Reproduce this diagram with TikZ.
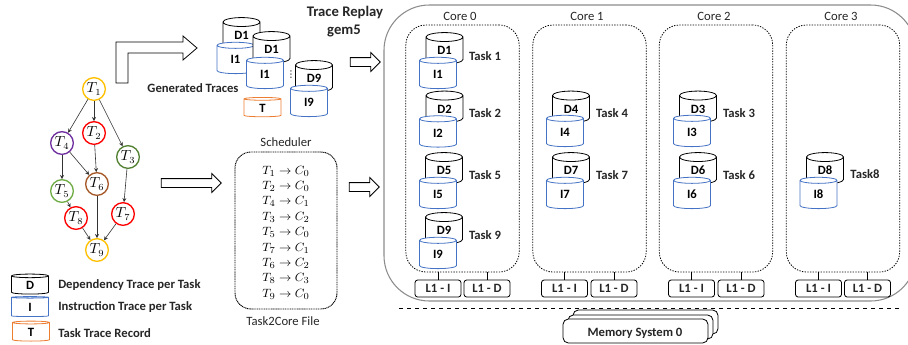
\documentclass[tikz,border=0pt]{standalone}
\usepackage{fontspec}
\setmainfont{Carlito}
\newfontfamily\symfont{DejaVu Sans}
\usetikzlibrary{shapes.geometric,shapes.arrows,arrows.meta}
\definecolor{tgold}{HTML}{FFC000}
\definecolor{tpurple}{HTML}{7030A0}
\definecolor{tgreen}{HTML}{548235}
\definecolor{tlime}{HTML}{70AD47}
\definecolor{tbrown}{HTML}{A5592A}
\definecolor{iblue}{HTML}{4472C4}
\definecolor{torange}{HTML}{ED7D31}
\begin{document}
\begin{tikzpicture}[x=0.75pt, y=-0.75pt,
    task/.style ={circle, draw, line width=1pt, inner sep=0pt, minimum size=17pt, font=\fontsize{10.5}{10}\selectfont},
    dep/.style ={->, >={Stealth[length=3pt,width=3pt]}, line width=0.45pt, black!80},
    trace/.style ={cylinder, shape border rotate=90, aspect=0.62, draw, fill=white, line width=0.6pt, inner sep=0pt,
        minimum width=27.75pt, minimum height=23.5pt, font=\fontsize{9.5}{10}\selectfont\bfseries},
    dtrace/.style ={trace, draw=black, yshift=-2pt},
    itrace/.style ={trace, draw=iblue, yshift=-2pt},
    ttrace/.style ={trace, draw=torange, minimum height=14.5pt, aspect=0.45},
    lbl/.style ={font=\fontsize{9.5}{10}\selectfont\bfseries, text=black!85, inner sep=0pt},
    plain/.style ={font=\fontsize{9.5}{10}\selectfont, text=black!85, inner sep=0pt},
    map/.style ={font=\fontsize{9.5}{10}\selectfont, inner sep=0pt},
    core/.style ={draw, dash pattern=on 1pt off 1pt, line width=0.6pt, rounded corners=15pt, minimum width=85pt, minimum height=185.25pt},
    cache/.style ={draw, rounded corners=2pt, line width=0.6pt, minimum width=34.5pt, minimum height=12.75pt, inner sep=0pt,
        font=\fontsize{9.5}{10}\selectfont\bfseries, text=black!85},
    mem/.style ={draw, fill=white, rounded corners=4pt, line width=0.6pt, minimum width=108.75pt, minimum height=18pt},
    block/.style ={single arrow, draw, fill=white, line width=0.6pt, inner sep=3pt, single arrow head extend=3.75pt,
        single arrow tip angle=90, minimum height=22.5pt, minimum width=13.5pt}]
   \useasboundingbox (0,0) rectangle (908,344);

   % task graph
   \node[task, draw=tgold] (T1) at (94,89) {$T_1$};
   \node[task, draw=red] (T2) at (94,133) {$T_2$};
   \node[task, draw=tpurple] (T4) at (62,143) {$T_4$};
   \node[task, draw=tgreen] (T3) at (128,157) {$T_3$};
   \node[task, draw=tbrown] (T6) at (97,184) {$T_6$};
   \node[task, draw=tlime] (T5) at (62,191) {$T_5$};
   \node[task, draw=red] (T8) at (76,218) {$T_8$};
   \node[task, draw=red] (T7) at (123,214) {$T_7$};
   \node[task, draw=tgold] (T9) at (97,250) {$T_9$};

   \draw[dep] (T1) to (T4);
   \draw[dep] (T1) to (T2);
   \draw[dep] (T1) to (T3);
   \draw[dep] (T4) to (T5);
   \draw[dep] (T4) to (T6);
   \draw[dep] (T2) to (T6);
   \draw[dep] (T3) to (T7);
   \draw[dep] (T5) to (T8);
   \draw[dep] (T8) to (T9);
   \draw[dep] (T6) to (T9);
   \draw[dep] (T7) to (T9);

   % legend
   \node[dtrace, minimum height=15pt, aspect=0.45] (legD) at (30,282.5) {D};
   \node[itrace, minimum height=15pt, aspect=0.45] (legI) at (30,304.5) {I};
   \node[ttrace, minimum height=15pt] (legT) at (31,332) {T};
   \node[lbl, anchor=west] (legDtext) at (58,285) {Dependency Trace per Task};
   \node[lbl, anchor=west] (legItext) at (58,307) {Instruction Trace per Task};
   \node[lbl, anchor=west] (legTtext) at (58,333) {Task Trace Record};

   % generated traces
   \draw[line width=0.6pt] (116,83) -- (116,42) -- (183,42) -- (183,36) -- (197,48) -- (183,60) -- (183,53) -- (128,53) -- (128,83) -- cycle;
   \node[dtrace] (gD1) at (241.5,33) {D1};
   \node[itrace] (gI1) at (235.5,57) {I1};
   \node[dtrace] (gD1b) at (271.5,47) {D1};
   \node[itrace] (gI1b) at (265,72) {I1};
   \node[dtrace] (gD9) at (314,76) {D9};
   \node[itrace] (gI9) at (309,100) {I9};
   \node[ttrace] (gT) at (262.5,108) {T};
   \node[font=\fontsize{7}{8}\selectfont\symfont, inner sep=0pt] (gdots) at (291,75) {⋮};
   \node[lbl] (gen) at (193,88) {Generated Traces};
   \node[lbl, font=\fontsize{11}{12}\selectfont\bfseries] (replay) at (345,13) {Trace Replay};
   \node[lbl, font=\fontsize{11}{12}\selectfont\bfseries] (gem) at (344,31) {gem5};

   \node[block, minimum height=45pt] (arrowA) at (189,183) {};
   \node[block] (arrowB) at (362,187) {};
   \node[block] (arrowC) at (363,62) {};

   % scheduler file
   \node[draw, dash pattern=on 0.8pt off 0.5pt, line width=0.7pt, rounded corners=12pt, minimum width=76.5pt, minimum height=117.75pt] (sched) at (286,230.5) {};
   \node[plain] (schedtext) at (286,142) {Scheduler};
   \node[plain] (filetext) at (283,321) {Task2Core File};
   \node[map] (m1) at (286,171) {$T_1\to C_0$};
   \node[map] (m2) at (286,186.4) {$T_2\to C_0$};
   \node[map] (m3) at (286,201.8) {$T_4\to C_1$};
   \node[map] (m4) at (286,217.2) {$T_3\to C_2$};
   \node[map] (m5) at (286,232.6) {$T_5\to C_0$};
   \node[map] (m6) at (286,248) {$T_7\to C_1$};
   \node[map] (m7) at (286,263.4) {$T_6\to C_2$};
   \node[map] (m8) at (286,278.8) {$T_8\to C_3$};
   \node[map] (m9) at (286,294.2) {$T_9\to C_0$};

   % cores
   \node[draw=black!45, line width=0.8pt, rounded corners=34pt, minimum width=399pt, minimum height=222pt] (chip) at (650,153) {};
   \node[core] (core0) at (462.5,148.5) {};
   \node[core] (core1) at (589.5,148.5) {};
   \node[core] (core2) at (716,148.5) {};
   \node[core] (core3) at (843,148.5) {};
   \node[plain] (c0text) at (460,16) {Core 0};
   \node[plain] (c1text) at (587,16) {Core 1};
   \node[plain] (c2text) at (714,16) {Core 2};
   \node[plain] (c3text) at (841,16) {Core 3};

   \node[dtrace] (D1) at (444.5,48) {D1};
   \node[itrace] (I1) at (438,72) {I1};
   \node[lbl] (task1) at (485,56) {Task 1};
   \node[dtrace] (D2) at (444.5,106.5) {D2};
   \node[itrace] (I2) at (438,130.5) {I2};
   \node[lbl] (task2) at (485,113) {Task 2};
   \node[dtrace] (D5) at (444,168) {D5};
   \node[itrace] (I5) at (438,192) {I5};
   \node[lbl] (task5) at (485,175) {Task 5};
   \node[dtrace] (D9) at (444,228) {D9};
   \node[itrace] (I9) at (438,252) {I9};
   \node[lbl] (task9) at (485,235) {Task 9};

   \node[dtrace] (D4) at (571,106.5) {D4};
   \node[itrace] (I4) at (565,130) {I4};
   \node[lbl] (task4) at (612,113) {Task 4};
   \node[dtrace] (D7) at (571,168) {D7};
   \node[itrace] (I7) at (565,192) {I7};
   \node[lbl] (task7) at (612,175) {Task 7};

   \node[dtrace] (D3) at (698,106.5) {D3};
   \node[itrace] (I3) at (692,130) {I3};
   \node[lbl] (task3) at (739,113) {Task 3};
   \node[dtrace] (D6) at (698,168) {D6};
   \node[itrace] (I6) at (692,192) {I6};
   \node[lbl] (task6) at (739,175) {Task 6};

   \node[dtrace] (D8) at (825,168) {D8};
   \node[itrace] (I8) at (818.5,192) {I8};
   \node[lbl] (task8) at (865,174) {Task8};

   % caches
   \node[cache] (l1i0) at (438,288.5) {L1 - I};
   \node[cache] (l1d0) at (487,288.5) {L1 - D};
   \node[cache] (l1i1) at (564.5,288.5) {L1 - I};
   \node[cache] (l1d1) at (614,288.5) {L1 - D};
   \node[cache] (l1i2) at (691.5,288.5) {L1 - I};
   \node[cache] (l1d2) at (741,288.5) {L1 - D};
   \node[cache] (l1i3) at (818.5,288.5) {L1 - I};
   \node[cache] (l1d3) at (867.5,288.5) {L1 - D};
   \draw (l1i0.north) to (l1i0.north |- core0.south);
   \draw (l1d0.north) to (l1d0.north |- core0.south);
   \draw (l1i1.north) to (l1i1.north |- core1.south);
   \draw (l1d1.north) to (l1d1.north |- core1.south);
   \draw (l1i2.north) to (l1i2.north |- core2.south);
   \draw (l1d2.north) to (l1d2.north |- core2.south);
   \draw (l1i3.north) to (l1i3.north |- core3.south);
   \draw (l1d3.north) to (l1d3.north |- core3.south);

   % memory
   \coordinate (cutL) at (399,308);
   \coordinate (cutR) at (899,308);
   \draw[dashed, line width=0.6pt] (cutL) to (cutR);
   \node[mem] (memC) at (645.5,322) {};
   \node[mem] (memB) at (640.5,327) {};
   \node[mem] (memA) at (635.5,331) {};
   \node[lbl] (memtext) at (635,333) {Memory System 0};
 \end{tikzpicture}
\end{document}
